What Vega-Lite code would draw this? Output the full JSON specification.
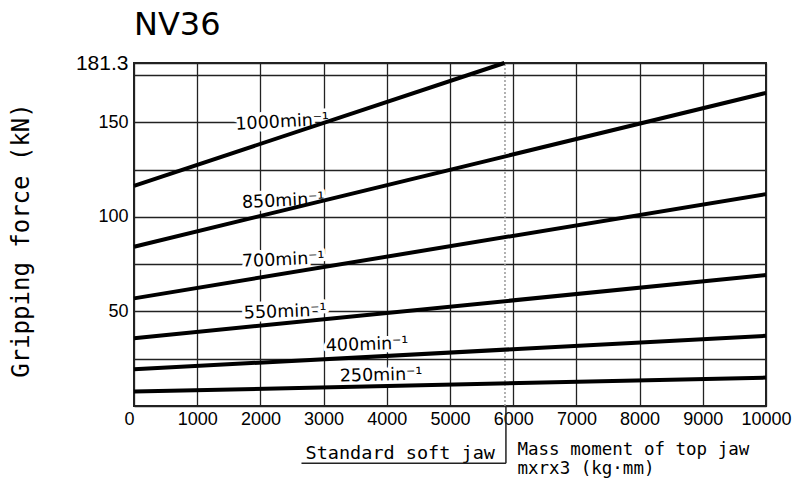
{
  "$schema": "https://vega.github.io/schema/vega-lite/v6.json",
  "width": 632,
  "height": 343,
  "autosize": {"type": "none"},
  "padding": {"left": 134, "top": 63, "right": 37, "bottom": 80},
  "background": "white",
  "title": {"text": "NV36", "anchor": "start", "frame": "group", "font": "DejaVu Sans", "fontSize": 32, "fontWeight": "normal", "color": "black", "offset": 10},
  "config": {"view": {"stroke": "#222", "strokeWidth": 2}, "font": "DejaVu Sans"},
  "datasets": {
    "lines": [
      {"rpm": "1000", "x": 0, "y": 116.4}, {"rpm": "1000", "x": 5860, "y": 181.3},
      {"rpm": "850", "x": 0, "y": 84.2}, {"rpm": "850", "x": 10000, "y": 165.5},
      {"rpm": "700", "x": 0, "y": 56.9}, {"rpm": "700", "x": 10000, "y": 112.0},
      {"rpm": "550", "x": 0, "y": 35.8}, {"rpm": "550", "x": 10000, "y": 69.2},
      {"rpm": "400", "x": 0, "y": 19.4}, {"rpm": "400", "x": 10000, "y": 37.1},
      {"rpm": "250", "x": 0, "y": 7.6}, {"rpm": "250", "x": 10000, "y": 15.0}
    ],
    "labels": [
      {"rpm": "1000", "x": 2346, "y": 150.0, "label": "1000min⁻¹"},
      {"rpm": "850", "x": 2362, "y": 108.3, "label": "850min⁻¹"},
      {"rpm": "700", "x": 2362, "y": 77.1, "label": "700min⁻¹"},
      {"rpm": "550", "x": 2393, "y": 49.7, "label": "550min⁻¹"},
      {"rpm": "400", "x": 3689, "y": 32.3, "label": "400min⁻¹"},
      {"rpm": "250", "x": 3910, "y": 16.1, "label": "250min⁻¹"}
    ],
    "soft": [{"x": 5870, "y": 0, "y2": 181.3}],
    "jaw": [
      {"x": 2650, "x2": 5885, "y": -30.3, "y2": -30.3},
      {"x": 5885, "x2": 5885, "y": 0, "y2": -30.3}
    ],
    "jawtext": [{"x": 5885, "y": -24.7, "label": "Standard soft jaw"}]
  },
  "layer": [
    {
      "data": {"name": "labels"},
      "mark": {"type": "text", "fill": "white", "stroke": "white", "strokeWidth": 7, "strokeJoin": "round", "font": "DejaVu Sans", "fontSize": 17.5},
      "encoding": {
        "x": {
          "field": "x", "type": "quantitative",
          "scale": {"domain": [0, 10000], "nice": false, "zero": false},
          "axis": {
            "values": [0, 1000, 2000, 3000, 4000, 5000, 6000, 7000, 8000, 9000, 10000],
            "format": "d", "ticks": false, "domain": false, "grid": true,
            "gridColor": "#222", "gridWidth": 1.3, "gridOpacity": 1,
            "labelFont": "Liberation Sans", "labelFontSize": 18, "labelColor": "black", "labelPadding": 4,
            "labelAlign": {"condition": {"test": "datum.value == 0", "value": "right"}, "value": "center"},
            "labelFlush": false, "labelOverlap": false,
            "title": ["Mass moment of top jaw", "mxrx3 (kg·mm)"],
            "titleFont": "DejaVu Sans Mono", "titleFontSize": 17.5, "titleFontWeight": "normal", "titleColor": "black",
            "titleAlign": "left", "titleBaseline": "top", "titleX": 383, "titleY": 34, "titleLineHeight": 19
          }
        },
        "y": {
          "field": "y", "type": "quantitative",
          "scale": {"domain": [0, 181.3], "nice": false, "zero": false},
          "axis": {
            "values": [0, 25, 50, 75, 100, 125, 150, 175, 181.3],
            "format": ".1~f",
            "labelExpr": "(datum.value == 50 || datum.value == 100 || datum.value == 150 || datum.value > 180) ? datum.label : ''",
            "ticks": false, "domain": false, "grid": true,
            "gridColor": "#222", "gridWidth": 1.3, "gridOpacity": 1,
            "labelFont": "Liberation Sans", "labelColor": "black", "labelPadding": 6,
            "labelFontSize": {"condition": {"test": "datum.value > 180", "value": 21}, "value": 18},
            "title": "Gripping force (kN)",
            "titleFont": "DejaVu Sans Mono", "titleFontSize": 24, "titleFontWeight": "normal", "titleColor": "black",
            "titleBaseline": "alphabetic", "titleX": -106, "titleY": 177, "titleAngle": 270
          }
        },
        "text": {"field": "label"},
        "angle": {"field": "rpm", "type": "nominal", "scale": {"domain": ["250", "400", "550", "700", "850", "1000"], "range": [358.5, 357, 354, 351, 346.5, 343]}, "legend": null}
      }
    },
    {
      "data": {"name": "soft"},
      "mark": {"type": "rule", "color": "#999", "strokeWidth": 1.5, "strokeDash": [2, 2]},
      "encoding": {
        "x": {"field": "x", "type": "quantitative", "scale": {"domain": [0, 10000], "nice": false, "zero": false}},
        "y": {"field": "y", "type": "quantitative", "scale": {"domain": [0, 181.3], "nice": false, "zero": false}},
        "y2": {"field": "y2"}
      }
    },
    {
      "data": {"name": "lines"},
      "mark": {"type": "line", "color": "black", "strokeWidth": 4},
      "encoding": {
        "x": {"field": "x", "type": "quantitative", "scale": {"domain": [0, 10000], "nice": false, "zero": false}},
        "y": {"field": "y", "type": "quantitative", "scale": {"domain": [0, 181.3], "nice": false, "zero": false}},
        "detail": {"field": "rpm"}
      }
    },
    {
      "data": {"name": "labels"},
      "mark": {"type": "text", "fill": "black", "font": "DejaVu Sans", "fontSize": 17.5},
      "encoding": {
        "x": {"field": "x", "type": "quantitative", "scale": {"domain": [0, 10000], "nice": false, "zero": false}},
        "y": {"field": "y", "type": "quantitative", "scale": {"domain": [0, 181.3], "nice": false, "zero": false}},
        "text": {"field": "label"},
        "angle": {"field": "rpm", "type": "nominal", "scale": {"domain": ["250", "400", "550", "700", "850", "1000"], "range": [358.5, 357, 354, 351, 346.5, 343]}, "legend": null}
      }
    },
    {
      "data": {"name": "jawtext"},
      "mark": {"type": "text", "fill": "black", "font": "DejaVu Sans Mono", "fontSize": 18.5, "align": "right", "baseline": "middle", "dx": -11},
      "encoding": {
        "x": {"field": "x", "type": "quantitative", "scale": {"domain": [0, 10000], "nice": false, "zero": false}},
        "y": {"field": "y", "type": "quantitative", "scale": {"domain": [0, 181.3], "nice": false, "zero": false}},
        "text": {"field": "label"}
      }
    },
    {
      "data": {"name": "jaw"},
      "mark": {"type": "rule", "color": "#222", "strokeWidth": 1.5},
      "encoding": {
        "x": {"field": "x", "type": "quantitative", "scale": {"domain": [0, 10000], "nice": false, "zero": false}},
        "x2": {"field": "x2"},
        "y": {"field": "y", "type": "quantitative", "scale": {"domain": [0, 181.3], "nice": false, "zero": false}},
        "y2": {"field": "y2"}
      }
    }
  ]
}
